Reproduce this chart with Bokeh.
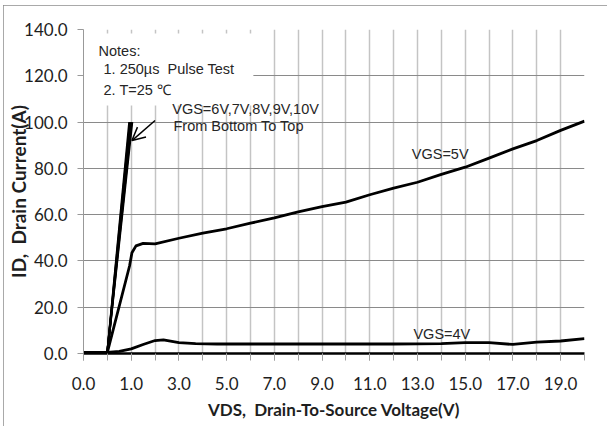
import numpy as np
from bokeh.plotting import figure
from bokeh.models import Range1d, FixedTicker, Arrow, OpenHead, PrintfTickFormatter
from bokeh.core.properties import value
from bokeh.embed import file_html
from bokeh.resources import INLINE

# ---------------- data ----------------
# steep curves VGS = 6V..10V
steep_names = ["VGS=6V", "VGS=7V", "VGS=8V", "VGS=9V", "VGS=10V"]
steep_vds = [
    [-1.0, 0.0, 1.04],
    [-1.0, 0.0, 1.01],
    [-1.0, 0.0, 0.98],
    [-1.0, 0.0, 0.95],
    [-1.0, 0.0, 0.92],
]
steep_id = [
    [0.5, 0.5, 100.0],
    [0.5, 0.5, 100.0],
    [0.5, 0.5, 100.0],
    [0.5, 0.5, 100.0],
    [0.5, 0.5, 100.0],
]

vds_5v = [-1.0, 0.0, 0.93, 1.03, 1.2, 1.5, 2.0, 3.0, 4.0, 5.0, 6.0, 7.0, 8.0,
          9.0, 10.0, 11.0, 12.0, 13.0, 14.0, 15.0, 16.0, 17.0, 18.0, 19.0, 20.0]
id_5v = [0.5, 0.5, 37.8, 43.5, 46.5, 47.6, 47.4, 49.8, 52.0, 53.9, 56.3, 58.6, 61.2,
         63.5, 65.4, 68.6, 71.5, 74.0, 77.4, 80.5, 84.4, 88.4, 92.0, 96.4, 100.4]

vds_4v = [-1.0, 0.0, 0.5, 1.0, 1.5, 2.0, 2.35, 3.0, 3.7, 4.6, 6.0, 8.0, 10.0, 12.0,
          14.0, 15.0, 16.0, 17.0, 18.0, 19.0, 20.0]
id_4v = [0.5, 0.5, 0.9, 2.0, 3.9, 5.6, 5.9, 4.7, 4.3, 4.1, 4.1, 4.1, 4.1, 4.1,
         4.3, 4.7, 4.7, 3.9, 4.9, 5.4, 6.4]

x_tick_vals = [-1, 1, 3, 5, 7, 9, 11, 13, 15, 17, 19]
x_tick_labels = ["0.0", "1.0", "3.0", "5.0", "7.0", "9.0", "11.0", "13.0", "15.0", "17.0", "19.0"]
x_grid_vals = list(range(-1, 21))
y_tick_vals = [0, 20, 40, 60, 80, 100, 120, 140]

notes_lines = ["Notes:", "1. 250\u00b5s\u00a0 Pulse Test", "2. T=25 \u2103"]
notes_x = [-0.37, -0.16, -0.16]
notes_y = [130.7, 122.9, 113.8]

curve_labels = ["VGS=6V,7V,8V,9V,10V", "From Bottom To Top", "VGS=5V", "VGS=4V"]
curve_label_x = [2.72, 2.77, 12.76, 12.83]
curve_label_y = [105.8, 98.3, 86.1, 8.6]

x_title = "VDS,\u00a0 Drain-To-Source Voltage(V)"
y_title = "ID,\u00a0 Drain Current(A)"

# ---------------- figure ----------------
p = figure(width=604, height=421, output_backend="svg", toolbar_location=None,
           x_range=Range1d(-1, 20), y_range=Range1d(0, 140),
           min_border_left=80, min_border_right=23, min_border_top=24, min_border_bottom=73,
           background_fill_color="white", border_fill_color="white",
           styles={"margin-left": "3px", "margin-top": "5px",
                   "outline": "1px solid #8c8c8c", "outline-offset": "-1px"})
p.outline_line_color = None

# grids
p.xgrid.ticker = FixedTicker(ticks=x_grid_vals)
p.xgrid.grid_line_color = "#c4c4c4"
p.xgrid.grid_line_width = 1.5
p.ygrid.ticker = FixedTicker(ticks=y_tick_vals)
p.ygrid.grid_line_color = "#8a8a8a"
p.ygrid.grid_line_width = 1

# x axis
p.xaxis.ticker = FixedTicker(ticks=x_tick_vals, minor_ticks=x_grid_vals)
p.xaxis.major_label_overrides = {float(v): s for v, s in zip(x_tick_vals, x_tick_labels)}
p.xaxis.axis_line_color = "black"
p.xaxis.axis_line_width = 2.5
p.xaxis.major_tick_in = 0
p.xaxis.major_tick_out = 7
p.xaxis.minor_tick_in = 0
p.xaxis.minor_tick_out = 7
p.xaxis.major_tick_line_color = "#a0a0a0"
p.xaxis.minor_tick_line_color = "#a0a0a0"
p.xaxis.major_label_standoff = 16
p.xaxis.axis_label = x_title
p.xaxis.axis_label_standoff = 6

# y axis
p.yaxis.ticker = FixedTicker(ticks=y_tick_vals)
p.yaxis.formatter = PrintfTickFormatter(format="%.1f")
p.yaxis.axis_line_color = "#999999"
p.yaxis.major_tick_in = 0
p.yaxis.major_tick_out = 6
p.yaxis.major_tick_line_color = "#999999"
p.yaxis.minor_tick_line_color = None
p.yaxis.major_label_standoff = 10
p.yaxis.axis_label = y_title
p.yaxis.axis_label_standoff = -9

for ax in (p.xaxis, p.yaxis):
    ax.major_label_text_font = "Lato"
    ax.major_label_text_font_size = "17px"
    ax.major_label_text_color = "#1e1e1e"
    ax.axis_label_text_font = "Lato"
    ax.axis_label_text_font_style = "bold"
    ax.axis_label_text_font_size = "17px"
    ax.axis_label_text_color = "#1e1e1e"
p.yaxis.axis_label_text_font_size = "19px"

# white notes box
p.quad(left=[-1.0], right=[6.12], bottom=[107.2], top=[138.3],
       fill_color="white", line_color=None)

# curves
for xs, ys in zip(steep_vds, steep_id):
    p.line(xs, ys, line_color="black", line_width=2.2, line_join="round")
p.line(vds_5v, id_5v, line_color="black", line_width=2.8, line_join="round")
p.line(vds_4v, id_4v, line_color="black", line_width=2.8, line_join="round")

# texts
p.text(x=notes_x, y=notes_y, text=notes_lines, text_font=value("Liberation Sans"),
       text_font_size="14.5px", text_align="left", text_baseline="middle",
       text_color="#262626")
p.text(x=curve_label_x, y=curve_label_y, text=curve_labels, text_font=value("Liberation Sans"),
       text_font_size="14.5px", text_align="left", text_baseline="middle",
       text_color="#262626")

# arrow
p.add_layout(Arrow(end=OpenHead(size=13, line_width=1.5, line_color="black"),
                   x_start=2.0, y_start=100.7, x_end=1.03, y_end=92.0,
                   line_width=1.5, line_color="black"))

open("out.html", "w").write(file_html(p, INLINE))
